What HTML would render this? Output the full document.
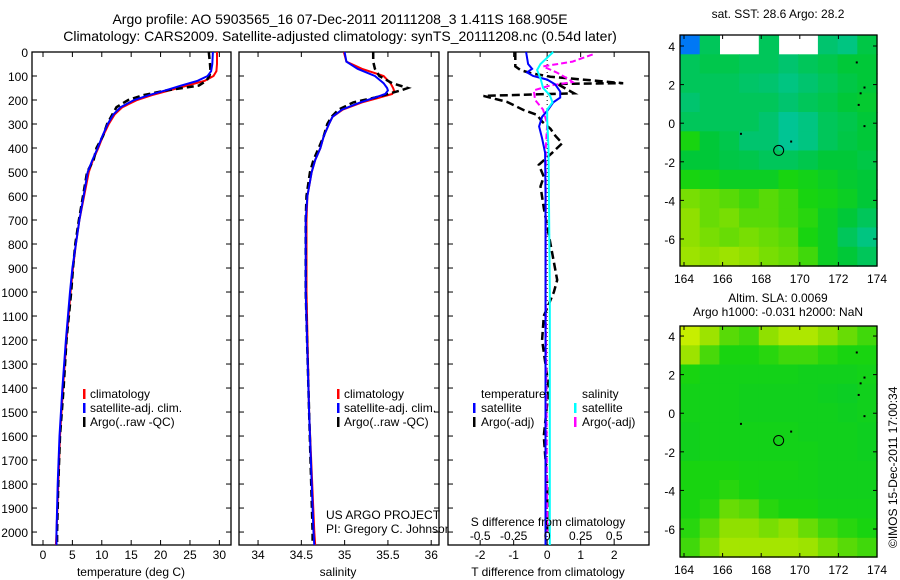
<!DOCTYPE html>
<html><head><meta charset="utf-8">
<style>
body{margin:0;background:#fff;}
svg{display:block;font-family:"Liberation Sans",sans-serif;}
text{fill:#000;}
</style></head>
<body>
<svg id="c" width="900" height="580" viewBox="0 0 900 580" xmlns="http://www.w3.org/2000/svg">
<text x="340" y="24" font-size="14" text-anchor="middle">Argo profile: AO 5903565_16 07-Dec-2011 20111208_3 1.411S 168.905E</text>
<text x="340" y="41" font-size="14" text-anchor="middle">Climatology: CARS2009. Satellite-adjusted climatology: synTS_20111208.nc (0.54d later)</text>
<text x="778" y="18" font-size="12" text-anchor="middle">sat. SST: 28.6 Argo: 28.2</text>
<text x="778" y="302" font-size="12" text-anchor="middle">Altim. SLA: 0.0069</text>
<text x="778" y="316" font-size="12" text-anchor="middle">Argo h1000: -0.031 h2000: NaN</text>
<text transform="translate(897,548) rotate(-90)" font-size="12">©IMOS 15-Dec-2011 17:00:34</text>
</svg>
<script>
// ---------- data ----------
const tempDepth = [0,50,80,100,120,140,160,180,200,230,260,300,350,400,450,500,600,700,800,900,1000,1200,1400,1600,1800,2000,2054];
const tempClim  = [29.6,29.6,29.5,29.0,27.5,24.5,21.5,18.5,16.0,13.5,12.2,11.2,10.2,9.4,8.5,7.8,7.0,6.2,5.6,5.1,4.7,4.0,3.4,2.9,2.6,2.3,2.2];
const tempSat   = [28.9,28.8,28.6,28.0,26.3,23.5,20.8,18.0,15.5,13.2,12.0,11.0,10.1,9.3,8.4,7.6,6.9,6.2,5.6,5.0,4.6,3.9,3.3,2.8,2.5,2.3,2.3];
const tempArgo  = [28.2,28.4,28.5,28.3,27.8,26.5,21.0,17.0,14.5,12.5,11.8,10.9,10.2,9.1,8.6,7.5,6.8,6.1,5.5,5.1,4.8,4.0,3.5,2.9,2.6,2.4,2.4];
const salDepth = [0,40,70,100,130,150,160,175,190,210,240,270,300,350,400,450,500,600,700,1000,1500,2000,2054];
const salClim  = [34.99,35.02,35.2,35.45,35.53,35.56,35.57,35.55,35.4,35.2,34.98,34.86,34.82,34.76,34.72,34.66,34.62,34.57,34.56,34.56,34.59,34.65,34.66];
const salSat   = [35.0,35.02,35.15,35.35,35.45,35.49,35.5,35.47,35.35,35.18,34.97,34.86,34.82,34.76,34.72,34.66,34.62,34.57,34.55,34.55,34.59,34.64,34.65];
const salArgo  = [35.33,35.33,35.35,35.4,35.55,35.73,35.65,35.5,35.35,35.1,34.93,34.85,34.8,34.76,34.7,34.64,34.6,34.56,34.55,34.55,34.59,34.63,34.63];
const dtDepth = [0,60,75,88,103,130,133,172,183,208,242,262,290,320,350,380,420,470,520,560,650,800,950,1000,1100,1200,1400,1600,1800,2000];
const dtArgo  = [-0.95,-0.95,-0.8,-0.5,0.1,2.27,0.3,0.8,-1.9,-1.2,-0.7,-0.3,-0.15,0.1,0.25,0.45,0.15,-0.25,-0.1,-0.2,-0.1,0.1,0.3,0.2,-0.1,-0.15,0.05,-0.1,0.0,0.0];
const dtsDepth = [0,50,70,85,100,115,135,165,190,210,240,270,310,360,420,600,1000,1500,2054];
const dtSat    = [-0.63,-0.57,-0.45,-0.6,-0.42,0.0,0.24,0.39,0.39,0.18,0.03,-0.15,-0.24,-0.15,-0.06,-0.05,-0.05,-0.05,-0.05];
const dsDepth = [0,50,75,110,150,180,210,240,280,400,1000,1500,2054];
const dsSat   = [0.045,-0.05,-0.075,-0.05,-0.03,0.02,0.04,0.0,0.0,0.01,0.02,0.02,0.02];
const dsaDepth = [10,40,60,85,110,125,140,160,200,240,300,400,1000,2000];
const dsArgo   = [0.34,0.19,-0.03,0.07,0.15,0.19,0.02,-0.1,-0.09,-0.03,0.0,-0.01,-0.01,0.0];
const depthTicks = [0,100,200,300,400,500,600,700,800,900,1000,1100,1200,1300,1400,1500,1600,1700,1800,1900,2000];
const tempTicks = [0,5,10,15,20,25,30];
const salTicks = [34,34.5,35,35.5,36];
const dtTicks = [-2,-1,0,1,2];
const dsTicks = [-0.5,-0.25,0,0.25,0.5];
const lonTicks = [164,166,168,170,172,174];
const latTicks = [4,2,0,-2,-4,-6];
const map1Vals = [
[0.2,0.45,null,null,0.45,null,null,0.42,0.4,0.48],
[0.45,0.47,0.47,0.45,0.45,0.42,0.45,0.47,0.5,0.5],
[0.45,0.45,0.45,0.43,0.42,0.4,0.42,0.45,0.48,0.5],
[0.42,0.45,0.45,0.45,0.45,0.42,0.45,0.47,0.5,0.52],
[0.45,0.45,0.45,0.45,0.42,0.38,0.4,0.45,0.47,0.5],
[0.6,0.5,0.47,0.42,0.42,0.38,0.4,0.45,0.48,0.5],
[0.5,0.5,0.48,0.47,0.45,0.45,0.47,0.5,0.5,0.48],
[0.6,0.58,0.55,0.55,0.55,0.6,0.58,0.55,0.52,0.5],
[0.72,0.7,0.68,0.65,0.68,0.65,0.6,0.58,0.55,0.5],
[0.75,0.7,0.72,0.68,0.68,0.65,0.62,0.55,0.5,0.45],
[0.75,0.72,0.7,0.72,0.7,0.68,0.6,0.55,0.45,0.4],
[0.78,0.75,0.78,0.75,0.72,0.7,0.65,0.55,0.5,0.45]];
const map2Vals = [
[0.88,0.78,0.68,0.65,0.75,0.82,0.82,0.75,0.7,0.65],
[0.78,0.66,0.6,0.6,0.62,0.65,0.65,0.62,0.6,0.6],
[0.6,0.58,0.58,0.58,0.58,0.58,0.57,0.57,0.57,0.58],
[0.58,0.58,0.58,0.57,0.57,0.57,0.57,0.56,0.55,0.57],
[0.58,0.58,0.58,0.57,0.57,0.57,0.57,0.57,0.56,0.57],
[0.57,0.58,0.58,0.58,0.58,0.58,0.57,0.57,0.57,0.56],
[0.57,0.58,0.58,0.58,0.58,0.58,0.58,0.57,0.57,0.56],
[0.6,0.6,0.6,0.59,0.59,0.59,0.58,0.57,0.57,0.57],
[0.6,0.6,0.62,0.6,0.58,0.58,0.58,0.57,0.57,0.57],
[0.6,0.62,0.7,0.68,0.62,0.6,0.6,0.58,0.58,0.58],
[0.62,0.68,0.75,0.75,0.72,0.75,0.7,0.65,0.62,0.6],
[0.65,0.72,0.8,0.8,0.8,0.8,0.78,0.72,0.68,0.65]];
const floatLon = 168.905, floatLat = -1.411;

// ---------- helpers ----------
const NS='http://www.w3.org/2000/svg';
const svg=document.getElementById('c');
function mk(tag,attrs,parent){const e=document.createElementNS(NS,tag);for(const k in attrs)e.setAttribute(k,attrs[k]);(parent||svg).appendChild(e);return e;}
function txt(x,y,s,size,anchor,parent){const t=mk('text',{x:x,y:y,'font-size':size,'text-anchor':anchor||'start'},parent);t.textContent=s;return t;}
const T0=52, PB=545, DMAX=2054;
function yD(d){return T0+(d/DMAX)*(PB-T0);}
function lin(a,b,pa,pb){return v=>pa+(v-a)/(b-a)*(pb-pa);}
const xT=lin(-1.87,31.98,32,231);
const xS=lin(33.78,36.09,239,439);
const xDT=lin(-2.96,3.04,448,649);
const xDS=v=>xDT(v*4);

function frame(x0,x1,name){
  const r=mk('rect',{x:x0,y:T0,width:x1-x0,height:PB-T0,fill:'#fff',stroke:'#000','stroke-width':1.3});
  
  
}
function line(xs,ds,xf,color,dash,w,name){
  let p='';
  for(let i=0;i<xs.length;i++){p+=(i?'L':'M')+xf(xs[i]).toFixed(1)+','+yD(ds[i]).toFixed(1);}
  const e=mk('path',{d:p,fill:'none',stroke:color,'stroke-width':w||2,'stroke-dasharray':dash||'none'});
  
  
}
function xticks(ticks,xf,x0,x1,labY,labels,name){
  ticks.forEach((t,i)=>{
    const x=xf(t);
    mk('line',{x1:x,y1:PB,x2:x,y2:PB-5,stroke:'#000'});
    mk('line',{x1:x,y1:T0,x2:x,y2:T0+5,stroke:'#000'});
    const l=txt(x,labY,labels?labels[i]:String(t),12,'middle');
    
    
  });
}
function yticksIn(x0,x1){
  depthTicks.forEach(d=>{const y=yD(d);
    mk('line',{x1:x0,y1:y,x2:x0+5,y2:y,stroke:'#000'});
    mk('line',{x1:x1,y1:y,x2:x1-5,y2:y,stroke:'#000'});});
}

// ---------- panel 1 ----------
frame(32,231,'temperature-panel');
yticksIn(32,231);
depthTicks.forEach(d=>{const l=txt(28,yD(d)+5,String(d),12,'end');
  
  });
xticks(tempTicks,xT,32,231,559,null,'temp-tick-label');
line(tempClim,tempDepth,xT,'#f00',null,2,'temp-climatology-line');
line(tempArgo,tempDepth,xT,'#000','7,4',2.5,'temp-argo-line');
line(tempSat,tempDepth,xT,'#00f',null,2,'temp-satellite-line');
let t=txt(131,576,'temperature (deg C)',12,'middle');

// ---------- panel 2 ----------
frame(239,439,'salinity-panel');
yticksIn(239,439);
xticks(salTicks,xS,239,439,559,['34','34.5','35','35.5','36'],'sal-tick-label');
line(salClim,salDepth,xS,'#f00',null,2,'sal-climatology-line');
line(salArgo,salDepth,xS,'#000','7,4',2.5,'sal-argo-line');
line(salSat,salDepth,xS,'#00f',null,2,'sal-satellite-line');
t=txt(338,576,'salinity',12,'middle');

function legend(x,items,prefix){
  items.forEach((it,i)=>{const y=398+i*14;
    const b=mk('rect',{x:x,y:y-9,width:2.5,height:10,fill:it[1]});
    
    const l=txt(x+7,y,it[0],12);});
}
const legItems=[['climatology','#f00'],['satellite-adj. clim.','#00f'],['Argo(..raw -QC)','#000']];
legend(83,legItems,'temp-legend');
legend(337,legItems,'sal-legend');
t=txt(326,519,'US ARGO PROJECT',12);
t=txt(326,533,'PI: Gregory C. Johnson',12);

// ---------- panel 3 ----------
frame(448,649,'difference-panel');
yticksIn(448,649);
mk('line',{x1:xDT(0),y1:T0,x2:xDT(0),y2:PB,stroke:'#000','stroke-dasharray':'1,3'});
xticks(dtTicks,xDT,448,649,559,['-2','-1','0','1','2'],'dt-tick-label');
line(dtArgo,dtDepth,xDT,'#000','8,4',2.5,'dt-argo-line');
line(dsArgo,dsaDepth,xDS,'#f0f','6,3',2,'ds-argo-line');
line(dtSat,dtsDepth,xDT,'#00f',null,2,'dt-satellite-line');
line(dsSat,dsDepth,xDS,'#0ff',null,2,'ds-satellite-line');
dsTicks.forEach((v,i)=>{const l=txt(xDS(v),540,['-0.5','-0.25','0','0.25','0.5'][i],12,'middle');
  });
t=txt(548,526,'S difference from climatology',12,'middle');
t=txt(548,576,'T difference from climatology',12,'middle');
t=txt(481,398,'temperature',12);
t=txt(582,398,'salinity',12);
[[473,412,'satellite','#00f'],[473,426,'Argo(-adj)','#000'],[574,412,'satellite','#0ff'],[574,426,'Argo(-adj)','#f0f']].forEach(it=>{
  const b=mk('rect',{x:it[0],y:it[1]-9,width:2.5,height:10,fill:it[3]});
  
  const l=txt(it[0]+8,it[1],it[2],12);});

// ---------- maps ----------
const stops=[[0,[0,0,128]],[0.15,[0,80,255]],[0.3,[0,200,224]],[0.42,[0,196,110]],[0.5,[0,200,56]],[0.6,[24,212,16]],[0.75,[144,224,0]],[0.9,[208,240,0]]];
function cmap(v){for(let i=1;i<stops.length;i++){if(v<=stops[i][0]){const a=stops[i-1],b=stops[i],f=(v-a[0])/(b[0]-a[0]);
  return 'rgb('+a[1].map((c,k)=>Math.round(c+(b[1][k]-c)*f)).join(',')+')';}}
  return 'rgb(208,240,0)';}
function drawMap(x0,x1,y0,y1,latTop,latBot,vals,name){
  const lx=v=>684+(v-164)*19.3;
  const ly=v=>y0+(latTop-v)*((y1-y0)/(latTop-latBot));
  const g=mk('g',{});
  
  
  const nR=vals.length,nC=vals[0].length;
  const cw=(x1-x0)/nC, ch=(y1-y0)/nR;
  vals.forEach((row,r)=>row.forEach((v,c)=>{
    if(v===null)return;
    const cell=mk('rect',{x:(x0+c*cw).toFixed(1),y:(y0+r*ch).toFixed(1),width:(cw+0.6).toFixed(1),height:(ch+0.6).toFixed(1),fill:cmap(v)},g);
    
    
  }));
  mk('rect',{x:x0,y:y0,width:x1-x0,height:y1-y0,fill:'none',stroke:'#000','stroke-width':1.3});
  lonTicks.forEach(v=>{const x=lx(v);
    mk('line',{x1:x,y1:y1,x2:x,y2:y1-4,stroke:'#000'});mk('line',{x1:x,y1:y0,x2:x,y2:y0+4,stroke:'#000'});
    const l=txt(x,y1+17,String(v),12,'middle');});
  latTicks.forEach(v=>{const y=ly(v);
    mk('line',{x1:x0,y1:y,x2:x0+4,y2:y,stroke:'#000'});mk('line',{x1:x1,y1:y,x2:x1-4,y2:y,stroke:'#000'});
    const l=txt(x0-5,y+5,String(v),12,'end');});
  [[172.9,3.2],[173.1,1.6],[173.0,1.0],[173.3,-0.1],[173.3,1.9],[166.9,-0.5],[169.5,-0.9]].forEach(p=>{
    mk('rect',{x:lx(p[0]),y:ly(p[1]),width:2,height:2,fill:'#000'});});
  const c=mk('circle',{cx:lx(floatLon),cy:ly(floatLat),r:5,fill:'none',stroke:'#000','stroke-width':1});
  
  
}
drawMap(680,877,35,266,4.57,-7.4,map1Vals,'sst-map');
drawMap(680,877,326,557,4.52,-7.45,map2Vals,'sla-map');
</script>
</body></html>
